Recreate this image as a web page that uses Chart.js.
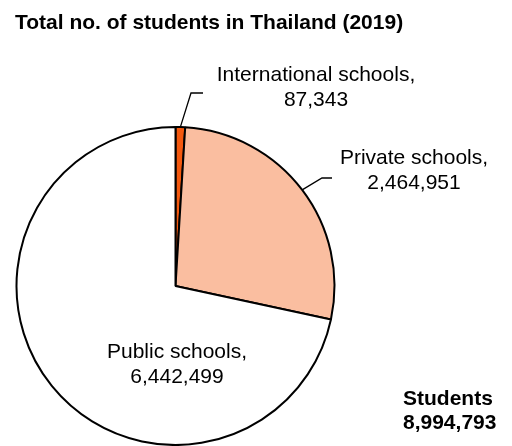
<!DOCTYPE html>
<html>
<head>
<meta charset="utf-8">
<script src="https://cdn.jsdelivr.net/npm/chart.js@4.4.1/dist/chart.umd.min.js"></script>
<style>
  html, body { margin: 0; padding: 0; background: #fff; }
  #wrap { width: 512px; height: 446px; position: relative; }
</style>
</head>
<body>
<div id="wrap"><canvas id="pieChart"></canvas></div>
<script>
const categories = ['International schools', 'Private schools', 'Public schools'];
const students = [87343, 2464951, 6442499];
const sliceColors = ['#f4590f', '#fabea0', '#ffffff'];
const totalLabel = 'Students';

const fmt = n => n.toLocaleString('en-US');
const total = students.reduce((a, b) => a + b, 0);

// label placement: text centre x, first line y, leader elbow and end
const labelPos = [
  { x: 316, y: 75, elbow: [191, 93], end: 203 },
  { x: 414, y: 158, elbow: [322, 178], end: 332 },
  { x: 177, y: 352 }
];

const labelsPlugin = {
  id: 'pieLabels',
  afterDraw(chart) {
    const ctx = chart.ctx;
    const meta = chart.getDatasetMeta(0);
    ctx.save();

    // title
    ctx.fillStyle = '#000';
    ctx.font = 'bold 21px "Liberation Sans", Arial, sans-serif';
    ctx.textAlign = 'left';
    ctx.textBaseline = 'middle';
    ctx.fillText('Total no. of students in Thailand (2019)', 15, 23);

    ctx.font = '21px "Liberation Sans", Arial, sans-serif';
    ctx.textAlign = 'center';
    meta.data.forEach((arc, i) => {
      const p = labelPos[i];
      ctx.fillText(categories[i] + ',', p.x, p.y);
      ctx.fillText(fmt(students[i]), p.x, p.y + 25);
      if (p.elbow) {
        const mid = (arc.startAngle + arc.endAngle) / 2;
        const sx = arc.x + Math.cos(mid) * arc.outerRadius;
        const sy = arc.y + Math.sin(mid) * arc.outerRadius;
        ctx.beginPath();
        ctx.moveTo(sx, sy);
        ctx.lineTo(p.elbow[0], p.elbow[1]);
        ctx.lineTo(p.end, p.elbow[1]);
        ctx.strokeStyle = '#000';
        ctx.lineWidth = 1.3;
        ctx.stroke();
      }
    });

    ctx.font = 'bold 21px "Liberation Sans", Arial, sans-serif';
    ctx.textAlign = 'left';
    ctx.fillText(totalLabel, 403, 399);
    ctx.fillText(fmt(total), 403, 423);
    ctx.restore();
  }
};

new Chart(document.getElementById('pieChart'), {
  type: 'pie',
  data: {
    labels: categories,
    datasets: [{
      data: students,
      backgroundColor: sliceColors,
      borderColor: '#000',
      borderWidth: 2
    }]
  },
  options: {
    responsive: true,
    maintainAspectRatio: false,
    animation: false,
    layout: { padding: { left: 15, right: 176, top: 126, bottom: 0 } },
    plugins: {
      legend: { display: false },
      tooltip: { enabled: false }
    }
  },
  plugins: [labelsPlugin]
});
</script>
</body>
</html>
